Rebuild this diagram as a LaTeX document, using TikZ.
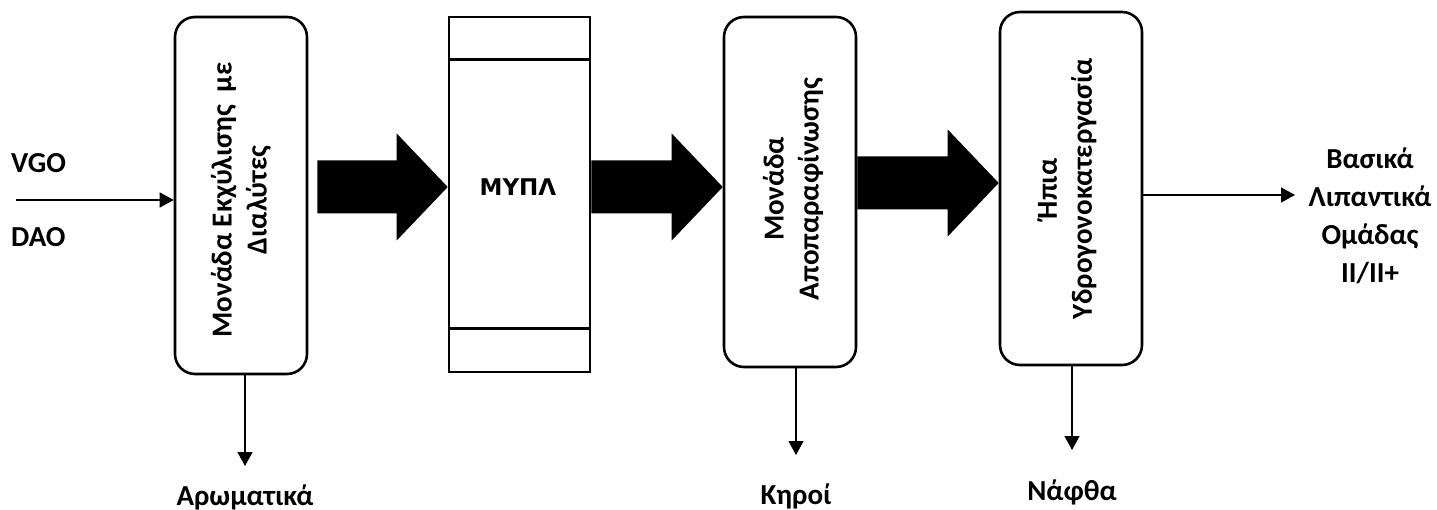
\documentclass[tikz,border=0pt]{standalone}
\usepackage{fontspec}
\setmainfont{Carlito}
\newfontfamily\columnfont{DejaVu Sans}
\usetikzlibrary{arrows.meta,calc}

\begin{document}
\begin{tikzpicture}[x=1pt,y=-1pt,>={Triangle[length=14pt,width=15pt]},
  font=\fontsize{29}{35}\selectfont\bfseries]

	% Define styles
	\tikzset{unit/.style={draw, line width=2.6pt, rounded corners=20pt, inner sep=0pt},
	  column/.style={draw, line width=2.6pt, inner sep=0pt},
	  stream/.style={->, line width=1.3pt},
	  vtext/.style={rotate=90, align=center, inner sep=0pt},
	  product/.style={anchor=base, inner sep=0pt}}

	\useasboundingbox (0,0) rectangle (1437,510);

	% Process units
	\node[unit, minimum width=132pt, minimum height=357pt] (extr) at (241,195.5) {};
	\node[vtext] (extrtext) at (241,200) {Μονάδα Εκχύλισης~ με\\Διαλύτες};

	\node[column, minimum width=141pt, minimum height=355pt] (mypl) at (519.5,194.5) {};
	\draw[line width=2.6pt] ([yshift=-44pt]mypl.north west) -- ([yshift=-44pt]mypl.north east);
	\draw[line width=2.6pt] ([yshift=45pt]mypl.south west) -- ([yshift=45pt]mypl.south east);
	\node[font=\fontsize{23}{27}\columnfont\bfseries] (mypltext) at (518,187) {ΜΥΠΛ};

	\node[unit, minimum width=132pt, minimum height=350pt] (dewax) at (790,192) {};
	\node[vtext] (dewaxtext) at (793,189) {Μονάδα\\Αποπαραφίνωσης};

	\node[unit, minimum width=142pt, minimum height=353pt] (hydro) at (1071,188.5) {};
	\node[vtext] (hydrotext) at (1067,189) {Ήπια\\Υδρογονοκατεργασία};

	% Feed and products
	\node[anchor=base west, inner sep=0pt] (vgo) at (11,173) {VGO};
	\node[anchor=base west, inner sep=0pt] (dao) at (11,247) {DAO};
	\node[align=center, anchor=north, inner sep=0pt, font=\fontsize{29}{38}\selectfont\bfseries]
	  (base) at (1370,148) {Βασικά\\Λιπαντικά\\Ομάδας\\II/II+};
	\node[product] (arom) at (245,505) {Αρωματικά};
	\node[product] (wax) at (796,504) {Κηροί};
	\node[product] (naph) at (1072,500) {Νάφθα};

	\coordinate (feed) at (16,200);
	\coordinate (prod) at (1295,195);
	\coordinate (t1) at (245,466);
	\coordinate (t2) at (796,455);
	\coordinate (t3) at (1072,450);

	% Thin streams
	\draw[stream] (feed) -- (feed -| extr.west);
	\draw[stream] (prod -| hydro.east) -- (prod);
	\draw[stream] (t1 |- extr.south) -- (t1);
	\draw[stream] (t2 |- dewax.south) -- (t2);
	\draw[stream] (t3 |- hydro.south) -- (t3);

	% Block arrows between units
	\foreach \src/\dst/\gap/\yy in {extr/mypl/9/187, mypl/dewax/0/187, dewax/hydro/0/183} {
		\coordinate (lvl) at (0,\yy);
		\path (\src.east |- lvl) ++(\gap,0) coordinate (tail);
		\coordinate (tip) at (\dst.west |- lvl);
		\fill ($(tail)+(0,-26.5)$) -- ($(tip)+(-51,-26.5)$) -- ($(tip)+(-51,-53.5)$) -- (tip)
		  -- ($(tip)+(-51,53.5)$) -- ($(tip)+(-51,26.5)$) -- ($(tail)+(0,26.5)$) -- cycle;
	}

\end{tikzpicture}
\end{document}
